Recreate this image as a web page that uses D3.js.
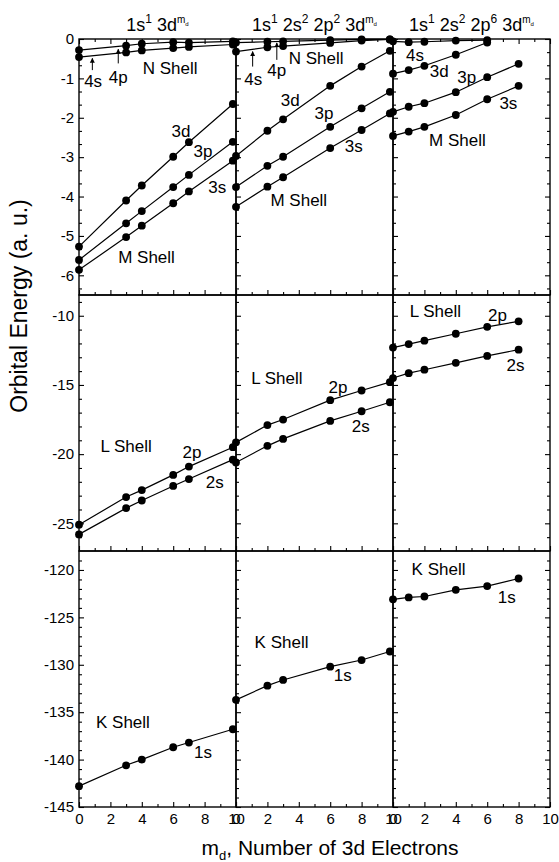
<!DOCTYPE html>
<html>
<head>
<meta charset="utf-8">
<script src="https://cdnjs.cloudflare.com/ajax/libs/d3/7.8.5/d3.min.js"></script>
<style>
  body { margin: 0; background: #fff; }
  svg { font-family: "Liberation Sans", Arial, sans-serif; }
</style>
</head>
<body>
<div id="chart"></div>
<script>
// ---- data ----
// m_d values where each configuration was computed
var xCfg1 = [0, 3, 4, 6, 7, 9.8];
var xCfg2 = [0, 2, 3, 6, 8, 9.8];
var xCfg3 = [0, 1, 2, 4, 6, 8];
var xCfg3short = [0, 1, 2, 4, 6];

// 1s1 3d^md
var c1_4p = [-0.28, -0.17, -0.12, -0.08, -0.09, -0.06];
var c1_4s = [-0.46, -0.34, -0.29, -0.23, -0.20, -0.14];
var c1_3d = [-5.27, -4.10, -3.72, -2.99, -2.62, -1.65];
var c1_3p = [-5.61, -4.68, -4.37, -3.76, -3.45, -2.61];
var c1_3s = [-5.86, -5.03, -4.74, -4.17, -3.87, -3.09];
var c1_2p = [-25.1, -23.1, -22.6, -21.5, -20.9, -19.5];
var c1_2s = [-25.8, -23.9, -23.35, -22.3, -21.8, -20.4];
var c1_1s = [-142.8, -140.6, -140.0, -138.7, -138.2, -136.8];

// 1s1 2s2 2p2 3d^md
var c2_4p = [-0.09, -0.07, -0.06, -0.03, -0.01, -0.01];
var c2_4s = [-0.32, -0.21, -0.18, -0.10, -0.04, -0.01];
var c2_3d = [-2.97, -2.33, -2.04, -1.19, -0.70, -0.30];
var c2_3p = [-3.76, -3.22, -2.99, -2.23, -1.76, -1.34];
var c2_3s = [-4.26, -3.75, -3.51, -2.77, -2.31, -1.89];
var c2_2p = [-19.15, -17.9, -17.5, -16.1, -15.4, -14.8];
var c2_2s = [-20.6, -19.4, -18.9, -17.6, -16.9, -16.25];
var c2_1s = [-133.7, -132.2, -131.6, -130.2, -129.5, -128.6];

// 1s1 2s2 2p6 3d^md
var c3_4s = [-0.06, -0.08, -0.07, -0.04, -0.03];
var c3_3d = [-0.88, -0.79, -0.68, -0.40, -0.09];
var c3_3p = [-1.85, -1.72, -1.63, -1.35, -0.97, -0.63];
var c3_3s = [-2.46, -2.35, -2.23, -1.93, -1.53, -1.19];
var c3_2p = [-12.3, -12.05, -11.8, -11.3, -10.8, -10.4];
var c3_2s = [-14.5, -14.15, -13.9, -13.4, -12.9, -12.45];
var c3_1s = [-123.1, -122.9, -122.8, -122.1, -121.7, -120.9];

// axis ticks
var xTicks = [0, 2, 4, 6, 8, 10];
var xMinor = [1, 3, 5, 7, 9];
var yTicksTop = [0, -1, -2, -3, -4, -5, -6];
var yTicksMid = [-10, -15, -20, -25];
var yTicksBot = [-120, -125, -130, -135, -140, -145];

// ---- layout ----
var W = 559, H = 862;
var X0 = 79, PW = 157;          // panel left / width
var ROW_TOP = [39, 295, 551], RH = 256;

var rows = [
  {domain: [-6.5, 0], major: yTicksTop, minor: d3.range(1, 20).map(function(k){ return -k / 3; }).filter(function(v){ return Math.abs(v - Math.round(v)) > 0.01; })},
  {domain: [-27, -8.5], major: yTicksMid, minor: d3.range(-9, -27, -1).filter(function(v){ return v % 5 !== 0; })},
  {domain: [-145, -118], major: yTicksBot, minor: d3.range(-119, -145, -1).filter(function(v){ return v % 5 !== 0; })}
];

var series = [
  {p:0, r:0, x:xCfg1, y:c1_4p}, {p:0, r:0, x:xCfg1, y:c1_4s},
  {p:0, r:0, x:xCfg1, y:c1_3d}, {p:0, r:0, x:xCfg1, y:c1_3p}, {p:0, r:0, x:xCfg1, y:c1_3s},
  {p:0, r:1, x:xCfg1, y:c1_2p}, {p:0, r:1, x:xCfg1, y:c1_2s},
  {p:0, r:2, x:xCfg1, y:c1_1s},
  {p:1, r:0, x:xCfg2, y:c2_4p}, {p:1, r:0, x:xCfg2, y:c2_4s},
  {p:1, r:0, x:xCfg2, y:c2_3d}, {p:1, r:0, x:xCfg2, y:c2_3p}, {p:1, r:0, x:xCfg2, y:c2_3s},
  {p:1, r:1, x:xCfg2, y:c2_2p}, {p:1, r:1, x:xCfg2, y:c2_2s},
  {p:1, r:2, x:xCfg2, y:c2_1s},
  {p:2, r:0, x:xCfg3short, y:c3_4s}, {p:2, r:0, x:xCfg3short, y:c3_3d},
  {p:2, r:0, x:xCfg3, y:c3_3p}, {p:2, r:0, x:xCfg3, y:c3_3s},
  {p:2, r:1, x:xCfg3, y:c3_2p}, {p:2, r:1, x:xCfg3, y:c3_2s},
  {p:2, r:2, x:xCfg3, y:c3_1s}
];

// annotations in data coordinates
var notes = [
  {p:0, r:0, x:0.9, y:-1.08, t:"4s"}, {p:0, r:0, x:2.5, y:-0.99, t:"4p"},
  {p:0, r:0, x:5.8, y:-0.74, t:"N Shell"}, {p:0, r:0, x:6.5, y:-2.35, t:"3d"},
  {p:0, r:0, x:7.9, y:-2.86, t:"3p"}, {p:0, r:0, x:8.8, y:-3.78, t:"3s"},
  {p:0, r:0, x:4.3, y:-5.54, t:"M Shell"},
  {p:1, r:0, x:1.1, y:-1.04, t:"4s"}, {p:1, r:0, x:2.6, y:-0.79, t:"4p"},
  {p:1, r:0, x:5.1, y:-0.49, t:"N Shell"}, {p:1, r:0, x:3.45, y:-1.55, t:"3d"},
  {p:1, r:0, x:5.6, y:-1.89, t:"3p"}, {p:1, r:0, x:7.5, y:-2.73, t:"3s"},
  {p:1, r:0, x:4.0, y:-4.09, t:"M Shell"},
  {p:2, r:0, x:1.4, y:-0.41, t:"4s"}, {p:2, r:0, x:2.95, y:-0.83, t:"3d"},
  {p:2, r:0, x:4.7, y:-0.97, t:"3p"}, {p:2, r:0, x:7.35, y:-1.65, t:"3s"},
  {p:2, r:0, x:4.1, y:-2.58, t:"M Shell"},
  {p:0, r:1, x:3.0, y:-19.46, t:"L Shell"}, {p:0, r:1, x:7.2, y:-19.87, t:"2p"}, {p:0, r:1, x:8.65, y:-22.04, t:"2s"},
  {p:1, r:1, x:2.6, y:-14.57, t:"L Shell"}, {p:1, r:1, x:6.5, y:-15.17, t:"2p"}, {p:1, r:1, x:7.95, y:-17.97, t:"2s"},
  {p:2, r:1, x:2.7, y:-9.71, t:"L Shell"}, {p:2, r:1, x:6.65, y:-9.95, t:"2p"}, {p:2, r:1, x:7.8, y:-13.61, t:"2s"},
  {p:0, r:2, x:2.8, y:-136.1, t:"K Shell"}, {p:0, r:2, x:7.9, y:-139.3, t:"1s"},
  {p:1, r:2, x:2.9, y:-127.7, t:"K Shell"}, {p:1, r:2, x:6.8, y:-131.1, t:"1s"},
  {p:2, r:2, x:2.9, y:-119.9, t:"K Shell"}, {p:2, r:2, x:7.25, y:-122.9, t:"1s"}
];

// small arrows pointing at the 4s / 4p curves: [x, yFrom, yTo]
var arrows = [
  {p:0, x:0.85, y0:-0.79, y1:-0.49}, {p:0, x:2.5, y0:-0.62, y1:-0.26},
  {p:1, x:1.06, y0:-0.70, y1:-0.32}, {p:1, x:2.6, y0:-0.53, y1:-0.10}
];

// top configuration labels: [text, superscript] pieces
var configs = [
  [["1s"], ["1", "sup"], [" 3d"], ["m", "sup"], ["d", "ss"]],
  [["1s"], ["1", "sup"], [" 2s"], ["2", "sup"], [" 2p"], ["2", "sup"], [" 3d"], ["m", "sup"], ["d", "ss"]],
  [["1s"], ["1", "sup"], [" 2s"], ["2", "sup"], [" 2p"], ["6", "sup"], [" 3d"], ["m", "sup"], ["d", "ss"]]
];

// ---- drawing ----
var svg = d3.select("#chart").append("svg")
    .attr("width", W).attr("height", H);

svg.append("defs").append("marker")
    .attr("id", "arrow").attr("viewBox", "0 0 10 10")
    .attr("refX", 9).attr("refY", 5)
    .attr("markerWidth", 5).attr("markerHeight", 6)
    .attr("markerUnits", "userSpaceOnUse")
    .attr("orient", "auto")
  .append("path").attr("d", "M0,0L10,5L0,10z").attr("fill", "#000");

var x = d3.scaleLinear().domain([0, 10]).range([0, PW]);
var yScales = rows.map(function(r){
  return d3.scaleLinear().domain(r.domain).range([RH, 0]);
});

function styleAxis(g){
  g.select(".domain").remove();
  g.selectAll("line").attr("stroke", "#000").attr("stroke-width", 1.1);
  g.selectAll("text").attr("fill", "#000").style("font-size", "15px")
    .style("font-family", "'Liberation Sans', Arial, sans-serif");
}

rows.forEach(function(row, ri){
  var y = yScales[ri];
  for (var p = 0; p < 3; p++){
    var g = svg.append("g")
        .attr("transform", "translate(" + (X0 + p * PW) + "," + ROW_TOP[ri] + ")");

    // left axis (inward ticks), labels only on first panel
    g.append("g").call(d3.axisLeft(y).tickValues(row.minor).tickSize(-3).tickFormat(""))
      .call(styleAxis);
    g.append("g").call(d3.axisLeft(y).tickValues(row.major).tickSize(-5).tickPadding(5)
        .tickFormat(p === 0 ? function(d){ return String(d); } : ""))
      .call(styleAxis);

    if (p === 2){
      g.append("g").attr("transform", "translate(" + PW + ",0)")
        .call(d3.axisRight(y).tickValues(row.minor).tickSize(-3).tickFormat("")).call(styleAxis);
      g.append("g").attr("transform", "translate(" + PW + ",0)")
        .call(d3.axisRight(y).tickValues(row.major).tickSize(-5).tickFormat("")).call(styleAxis);
    }

    // bottom axis (ticks pointing up)
    var xb = g.append("g").attr("transform", "translate(0," + RH + ")");
    xb.append("g").call(d3.axisBottom(x).tickValues(xMinor).tickSize(-3).tickFormat("")).call(styleAxis);
    xb.append("g").call(d3.axisBottom(x).tickValues(xTicks).tickSize(-5).tickPadding(6)
        .tickFormat(ri === 2 ? function(d){ return String(d); } : "")).call(styleAxis);

    if (ri === 0){
      g.append("g").call(d3.axisTop(x).tickValues(xMinor).tickSize(-3).tickFormat("")).call(styleAxis);
      g.append("g").call(d3.axisTop(x).tickValues(xTicks).tickSize(-5).tickFormat("")).call(styleAxis);
    }

    g.append("rect").attr("width", PW).attr("height", RH)
      .attr("fill", "none").attr("stroke", "#000").attr("stroke-width", 1.4);

    // curves
    var line = d3.line().x(function(d){ return x(d[0]); }).y(function(d){ return y(d[1]); });
    series.filter(function(s){ return s.p === p && s.r === ri; }).forEach(function(s){
      var pts = s.x.map(function(v, i){ return [v, s.y[i]]; });
      g.append("path").datum(pts).attr("d", line)
        .attr("fill", "none").attr("stroke", "#000").attr("stroke-width", 1.2);
      g.selectAll(null).data(pts).enter().append("circle")
        .attr("cx", function(d){ return x(d[0]); })
        .attr("cy", function(d){ return y(d[1]); })
        .attr("r", 3.9).attr("fill", "#000");
    });

    // annotations
    notes.filter(function(n){ return n.p === p && n.r === ri; }).forEach(function(n){
      g.append("text").attr("x", x(n.x)).attr("y", y(n.y))
        .attr("text-anchor", "middle").attr("dominant-baseline", "central")
        .style("font-size", "17px").text(n.t);
    });

    if (ri === 0){
      arrows.filter(function(a){ return a.p === p; }).forEach(function(a){
        g.append("line").attr("x1", x(a.x)).attr("x2", x(a.x))
          .attr("y1", y(a.y0)).attr("y2", y(a.y1))
          .attr("stroke", "#000").attr("stroke-width", 1)
          .attr("marker-end", "url(#arrow)");
      });

      // configuration label above the panel (baseline ~31px from page top);
      // relative dy keeps it a single chunk so it centres as a whole
      var base = 31 - ROW_TOP[0];
      var t = g.append("text").attr("x", PW / 2).attr("y", base)
          .attr("text-anchor", "middle").style("font-size", "18px");
      var cur = 0;
      configs[p].forEach(function(part){
        var off = part[1] === "sup" ? -8 : part[1] === "ss" ? -5 : 0;
        var ts = t.append("tspan").attr("dy", off - cur).text(part[0]);
        cur = off;
        if (part[1] === "sup") ts.style("font-size", part[0] === "m" ? "10px" : "12px");
        else if (part[1] === "ss") ts.style("font-size", "6px");
      });
    }
  }
});

// axis titles
svg.append("text")
    .attr("transform", "translate(27," + 306 + ") rotate(-90)")
    .attr("text-anchor", "middle").style("font-size", "23px")
    .text("Orbital Energy (a. u.)");

var xt = svg.append("text").attr("x", 330).attr("y", 855)
    .attr("text-anchor", "middle").style("font-size", "21px");
xt.append("tspan").text("m");
xt.append("tspan").attr("dy", 5).style("font-size", "13px").text("d");
xt.append("tspan").attr("dy", -5).text(", Number of 3d Electrons");
</script>
</body>
</html>
